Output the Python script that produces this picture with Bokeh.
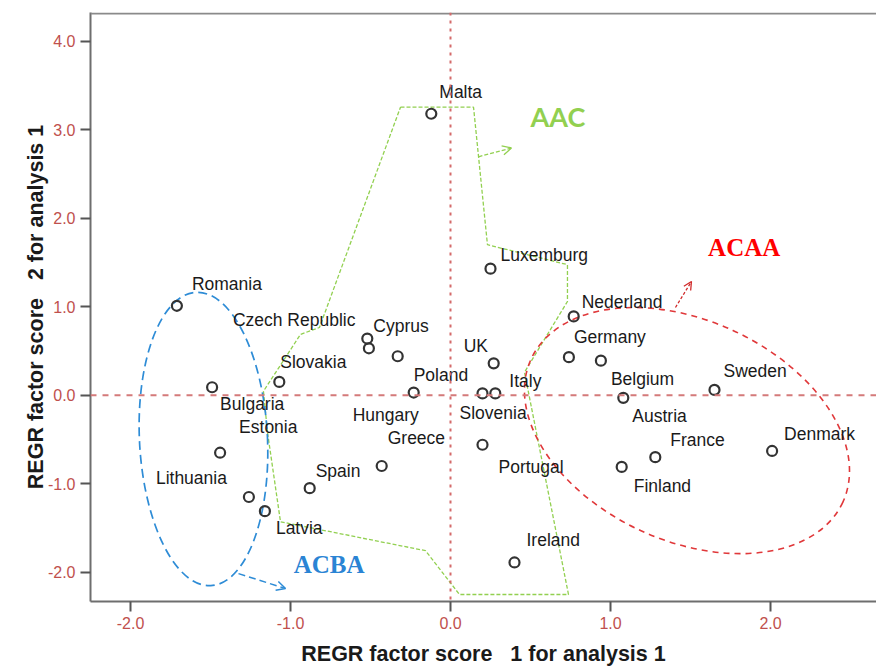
from bokeh.plotting import figure
from bokeh.models import Span, Label, Arrow, OpenHead, FixedTicker, PrintfTickFormatter, ColumnDataSource
from bokeh.embed import file_html
from bokeh.resources import INLINE
from bokeh.core.properties import value

# ---- data: REGR factor scores (factor 1, factor 2) ----
countries = ["Malta", "Luxemburg", "Nederland", "Romania", "Czech Republic", "Cyprus",
             "Hungary", "Slovakia", "Bulgaria", "Poland", "UK", "Slovenia", "Italy",
             "Germany", "Belgium", "Austria", "Sweden", "Estonia", "Lithuania", "Latvia",
             "Spain", "Greece", "Portugal", "France", "Finland", "Denmark", "Ireland"]
score1 = [-0.12, 0.25, 0.77, -1.71, -0.51, -0.52, -0.33, -1.07, -1.49, -0.23, 0.27, 0.20, 0.28,
          0.74, 0.94, 1.08, 1.65, -1.44, -1.26, -1.16, -0.88, -0.43, 0.20, 1.28, 1.07, 2.01, 0.40]
score2 = [3.18, 1.43, 0.89, 1.01, 0.53, 0.64, 0.44, 0.15, 0.09, 0.03, 0.36, 0.02, 0.02,
          0.43, 0.39, -0.03, 0.06, -0.65, -1.15, -1.31, -1.05, -0.80, -0.56, -0.70, -0.81, -0.63, -1.89]

x_ticks = [-2, -1, 0, 1, 2]
y_ticks = [-2, -1, 0, 1, 2, 3, 4]

# cluster outline of group AAC (hand-drawn polygon in the original)
aac_x = [-0.3125, 0.144, 0.231, 0.731, 0.731, 0.4625, 0.7375, 0.056, -0.156, -1.0625,
         -1.144, -1.169, -0.9375, -0.819, -0.3125]
aac_y = [3.254, 3.254, 1.700, 1.475, 1.059, 0.259, -2.252, -2.252, -1.757, -1.430,
         -0.417, 0.045, 0.687, 0.765, 3.254]

# label offsets in screen pixels (label placement of the original)
label_dx = [8, 10, 8, 15, -136, 6, -45, 1, 8, 0, -30, -23, 14, 5, 10, 9, 9, 19, -93, 11, 6, 6, 16, 15, 12, 12, 12]
label_dy = [-22, -14, -14, -22, -28, -13, 59, -20, 17, -18, -17, 20, -12, -20, 18, 18, -19, -26, -19, 17, -17, -28, 22, -17, 19, -17, -22]

src = ColumnDataSource(dict(x=score1, y=score2, name=countries, dx=label_dx, dy=label_dy))

p = figure(width=876, height=668, x_range=(-2.25, 2.6625), y_range=(-2.331, 4.324),
           output_backend="svg", toolbar_location=None,
           min_border_left=90, min_border_right=0, min_border_top=12, min_border_bottom=65)
p.background_fill_color = "white"
p.border_fill_color = "white"
p.outline_line_color = None
p.xgrid.visible = False
p.ygrid.visible = False

tick_color = "#c0504d"
for ax, ticks in ((p.xaxis[0], x_ticks), (p.yaxis[0], y_ticks)):
    ax.ticker = FixedTicker(ticks=ticks)
    ax.formatter = PrintfTickFormatter(format="%.1f")
    ax.minor_tick_line_color = None
    ax.major_tick_in = 0
    ax.major_tick_out = 10
    ax.major_tick_line_color = "#555555"
    ax.major_tick_line_width = 2
    ax.axis_line_color = "#6e6e6e"
    ax.axis_line_width = 2
    ax.major_label_text_color = tick_color
    ax.major_label_text_font = "Liberation Sans"
    ax.major_label_text_font_size = "16px"
    ax.major_label_standoff = 5
    ax.axis_label_text_font = "Liberation Sans"
    ax.axis_label_text_font_size = "21.5px"
    ax.axis_label_text_font_style = "bold"
    ax.axis_label_text_color = "#1a1a1a"

p.xaxis.axis_label = "REGR factor score\u00a0\u00a0 1 for analysis 1"
p.yaxis.axis_label = "REGR factor score\u00a0\u00a0 2 for analysis 1"
p.xaxis.axis_label_standoff = 10
p.yaxis.axis_label_standoff = -3

# top frame line
p.add_layout(Span(location=4.313, dimension="width", line_color="#8a8a8a", line_width=2))

# reference lines at 0
p.add_layout(Span(location=0, dimension="height", line_color="#d46a6a", line_width=2, line_dash="3 5"))
p.add_layout(Span(location=0, dimension="width", line_color="#d47a7a", line_width=2, line_dash="6 6"))

# group outlines
p.line(aac_x, aac_y, line_color="#92d050", line_width=1.3, line_dash="4 2")
p.ellipse(x=[-1.544], y=[-0.495], width=0.80, height=3.32, angle=0.05,
          fill_color=None, line_color="#2e8cd6", line_width=1.7, line_dash="9 5")
p.ellipse(x=[1.478], y=[-0.40], width=2.144, height=2.49, angle=-0.43,
          fill_color=None, line_color="#e0383a", line_width=1.6, line_dash="6 5")

p.add_layout(Arrow(end=OpenHead(size=9, line_color="#92d050", line_width=1.3),
                   x_start=0.175, y_start=2.694, x_end=0.381, y_end=2.793,
                   line_color="#92d050", line_width=1.3, line_dash="4 2"))
p.add_layout(Arrow(end=OpenHead(size=9, line_color="#2e8cd6", line_width=1.5),
                   x_start=-1.325, y_start=-2.016, x_end=-1.031, y_end=-2.185,
                   line_color="#2e8cd6", line_width=1.5, line_dash="7 4"))
p.add_layout(Arrow(end=OpenHead(size=8, line_color="#d02a2a", line_width=1.3),
                   x_start=1.406, y_start=0.991, x_end=1.506, y_end=1.284,
                   line_color="#d02a2a", line_width=1.3, line_dash="3 2"))

# group names
p.add_layout(Label(x=0.50, y=3.15, text="AAC", text_font="Lato", text_font_style="bold",
                   text_font_size="27px", text_color="#92d050", text_baseline="middle"))
p.add_layout(Label(x=1.61, y=1.67, text="ACAA", text_font="Liberation Serif", text_font_style="bold",
                   text_font_size="25px", text_color="#ff0000", text_baseline="middle"))
p.add_layout(Label(x=-0.98, y=-1.91, text="ACBA", text_font="Liberation Serif", text_font_style="bold",
                   text_font_size="25px", text_color="#2a84d4", text_baseline="middle"))

# points and country labels
p.scatter("x", "y", source=src, marker="circle", size=10, fill_color=None,
          line_color="#333333", line_width=2.2)
p.text("x", "y", text="name", source=src, x_offset="dx", y_offset="dy",
       text_font=value("Liberation Sans"), text_font_size=value("17.5px"),
       text_baseline="middle", text_align="left", text_color="#1a1a1a")

open("out.html", "w").write(file_html(p, INLINE))
